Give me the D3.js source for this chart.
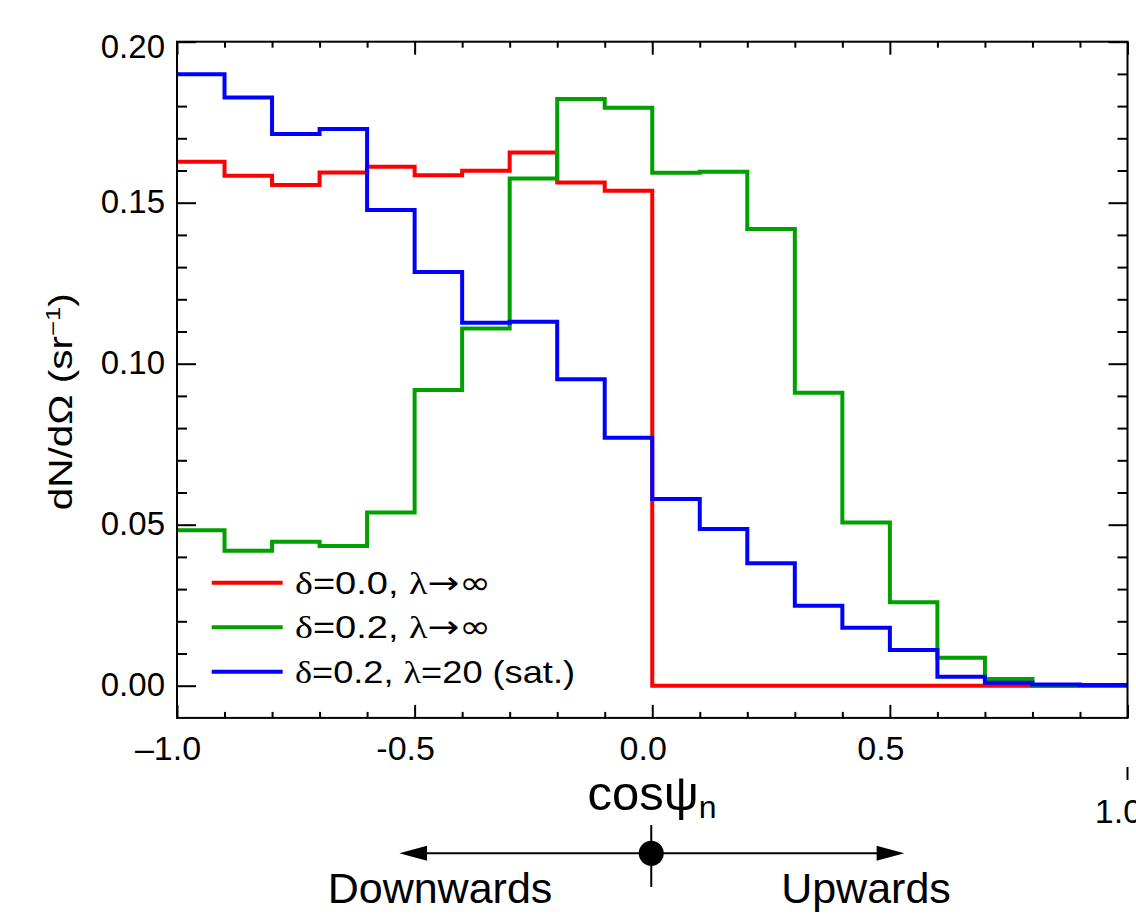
<!DOCTYPE html>
<html>
<head>
<meta charset="utf-8">
<script src="https://cdn.jsdelivr.net/npm/d3@7"></script>
<style>
  body { margin: 0; background: #fff; }
  text { font-family: "Liberation Sans", Arial, sans-serif; fill: #000; }
  .sym { font-family: "Liberation Serif", "DejaVu Serif", serif; }
  .arr { font-family: "DejaVu Sans", sans-serif; }
</style>
</head>
<body>
<svg id="chart" width="1136" height="920"></svg>
<script>
// bin edges of cos(psi_n), 20 bins of 0.1
var binEdges = [-1.0, -0.9, -0.8, -0.7, -0.6, -0.5, -0.4, -0.3, -0.2, -0.1, 0.0,
                0.1, 0.2, 0.3, 0.4, 0.5, 0.6, 0.7, 0.8, 0.9, 1.0];

var redVals   = [0.1627, 0.1584, 0.1555, 0.1594, 0.1612, 0.1585, 0.1599, 0.1656, 0.1563, 0.1537,
                 0, 0, 0, 0, 0, 0, 0, 0, 0, 0];
var greenVals = [0.0483, 0.0419, 0.0447, 0.0434, 0.0538, 0.0918, 0.1109, 0.1575, 0.1822, 0.1795,
                 0.1593, 0.1596, 0.1418, 0.0910, 0.0507, 0.0259, 0.0087, 0.0021, 0, 0];
var blueVals  = [0.1899, 0.1827, 0.1713, 0.1729, 0.1477, 0.1285, 0.1127, 0.1130, 0.0952, 0.0770,
                 0.0580, 0.0487, 0.0380, 0.0248, 0.0180, 0.0111, 0.0028, 0.0009, 0.0004, 0.0002];

var seriesNames  = ["δ=0.0, λ→∞", "δ=0.2, λ→∞", "δ=0.2, λ=20 (sat.)"];
var seriesColors = ["#ff0000", "#00a000", "#0000ff"];

var yMajor = [0.00, 0.05, 0.10, 0.15, 0.20];
var yMinor = [0.01, 0.02, 0.03, 0.04, 0.06, 0.07, 0.08, 0.09, 0.11, 0.12, 0.13, 0.14,
              0.16, 0.17, 0.18, 0.19];
var xMajor = [-1.0, -0.5, 0.0, 0.5, 1.0];
var xMinor = [-0.9, -0.8, -0.7, -0.6, -0.4, -0.3, -0.2, -0.1, 0.1, 0.2, 0.3, 0.4,
              0.6, 0.7, 0.8, 0.9];
var xLabels = ["–1.0", "-0.5", "0.0", "0.5", "1.0"];

var plotL = 177, plotR = 1127.5, plotT = 41.7, zeroY = 685.7;

var svg = d3.select("#chart");
svg.append("rect").attr("width", 1136).attr("height", 920).attr("fill", "#fff");

var x = d3.scaleLinear().domain([-1, 1]).range([plotL, plotR]);
var y = d3.scaleLinear().domain([0, 0.20]).range([zeroY, plotT]);
var plotB = y(-0.01);

// ticks, all pointing inward
function tickAxis(axis, size, vals, transform) {
  var g = svg.append("g")
    .attr("transform", transform)
    .call(axis.tickValues(vals).tickSize(size).tickFormat(""));
  g.select(".domain").remove();
  g.selectAll(".tick line").attr("stroke", "#000").attr("stroke-width", 2);
}
tickAxis(d3.axisLeft(y), -19, yMajor, "translate(" + plotL + ",0)");
tickAxis(d3.axisLeft(y), -10, yMinor, "translate(" + plotL + ",0)");
tickAxis(d3.axisRight(y), -19, yMajor, "translate(" + plotR + ",0)");
tickAxis(d3.axisRight(y), -10, yMinor, "translate(" + plotR + ",0)");
tickAxis(d3.axisBottom(x), -13, xMajor, "translate(0," + plotB + ")");
tickAxis(d3.axisBottom(x), -6, xMinor, "translate(0," + plotB + ")");
tickAxis(d3.axisTop(x), -13, xMajor, "translate(0," + plotT + ")");
tickAxis(d3.axisTop(x), -6, xMinor, "translate(0," + plotT + ")");

// histograms
var line = d3.line()
  .x(function(d) { return x(d[0]); })
  .y(function(d) { return y(d[1]); })
  .curve(d3.curveStepAfter);

[redVals, greenVals, blueVals].forEach(function(vals, k) {
  var pts = vals.map(function(v, i) { return [binEdges[i], v]; });
  pts.push([binEdges[binEdges.length - 1], vals[vals.length - 1]]);
  svg.append("path")
    .attr("d", line(pts))
    .attr("fill", "none")
    .attr("stroke", seriesColors[k])
    .attr("stroke-width", 4)
    .attr("stroke-linejoin", "miter")
    .attr("stroke-linecap", "butt");
});

// frame
svg.append("rect")
  .attr("x", plotL).attr("y", plotT)
  .attr("width", plotR - plotL).attr("height", plotB - plotT)
  .attr("fill", "none").attr("stroke", "#000").attr("stroke-width", 2);

// y tick labels
svg.selectAll(".ylab").data(yMajor).enter().append("text")
  .attr("x", 165)
  .attr("y", function(d) { return Math.max(y(d) - 2, 46) + 12; })
  .attr("text-anchor", "end")
  .attr("font-size", 33)
  .text(function(d) { return d3.format(".2f")(d); });

// x tick labels (the 1.0 label sits lower, with its own little tick)
svg.selectAll(".xlab").data(xMajor.slice(0, 4)).enter().append("text")
  .attr("x", function(d) { return x(d) - 9; })
  .attr("y", 760)
  .attr("text-anchor", "middle")
  .attr("font-size", 34)
  .text(function(d, i) { return xLabels[i]; });
svg.append("line")
  .attr("x1", x(1)).attr("x2", x(1)).attr("y1", 767).attr("y2", 780)
  .attr("stroke", "#000").attr("stroke-width", 2);
svg.append("text")
  .attr("x", x(1) - 9).attr("y", 823)
  .attr("text-anchor", "middle").attr("font-size", 34)
  .text(xLabels[4]);

// axis titles
var yt = svg.append("text")
  .attr("transform", "translate(72,401.7) rotate(-90)")
  .attr("text-anchor", "middle")
  .attr("font-size", 33)
  .attr("textLength", 217)
  .attr("lengthAdjust", "spacingAndGlyphs");
yt.append("tspan").text("dN/dΩ (sr");
yt.append("tspan").attr("font-size", 21).attr("dy", -12).text("−1");
yt.append("tspan").attr("dy", 12).text(")");

var xt = svg.append("text")
  .attr("x", 652).attr("y", 810)
  .attr("text-anchor", "middle")
  .attr("font-size", 49);
xt.append("tspan").text("cosψ");
xt.append("tspan").attr("font-size", 32).attr("dy", 8).text("n");

// direction arrows under the axis
var ay = 853.3;
svg.append("line").attr("x1", 426).attr("x2", 877).attr("y1", ay).attr("y2", ay)
  .attr("stroke", "#000").attr("stroke-width", 2);
svg.append("path").attr("d", d3.line()([[399.3, ay], [427, ay - 7.5], [427, ay + 7.5]]) + "Z")
  .attr("fill", "#000");
svg.append("path").attr("d", d3.line()([[904.3, ay], [876.6, ay - 7.5], [876.6, ay + 7.5]]) + "Z")
  .attr("fill", "#000");
svg.append("line").attr("x1", x(0) - 1).attr("x2", x(0) - 1).attr("y1", 825).attr("y2", 887)
  .attr("stroke", "#000").attr("stroke-width", 2);
svg.append("circle").attr("cx", x(0) - 1).attr("cy", ay).attr("r", 12.5).attr("fill", "#000");
svg.append("text").attr("x", 440).attr("y", 903).attr("text-anchor", "middle")
  .attr("font-size", 43).text("Downwards");
svg.append("text").attr("x", 866).attr("y", 903).attr("text-anchor", "middle")
  .attr("font-size", 43).text("Upwards");

// legend
var legendY = [582.7, 627.3, 671.7];
var legendLen = [196, 196, 280];
seriesNames.forEach(function(name, k) {
  svg.append("line")
    .attr("x1", 211.7).attr("x2", 282.7)
    .attr("y1", legendY[k]).attr("y2", legendY[k])
    .attr("stroke", seriesColors[k]).attr("stroke-width", 4);
  var t = svg.append("text")
    .attr("x", 295).attr("y", legendY[k] + 11)
    .attr("font-size", 32)
    .attr("textLength", legendLen[k])
    .attr("lengthAdjust", "spacingAndGlyphs");
  // greek letters in a serif face, arrows/infinity in a wider face
  name.split(/([δλ→∞])/).forEach(function(part) {
    if (!part) return;
    var sp = t.append("tspan").text(part);
    if (/[δλ]/.test(part)) sp.attr("class", "sym");
    if (/[→∞]/.test(part)) sp.attr("class", "arr");
  });
});
</script>
</body>
</html>
